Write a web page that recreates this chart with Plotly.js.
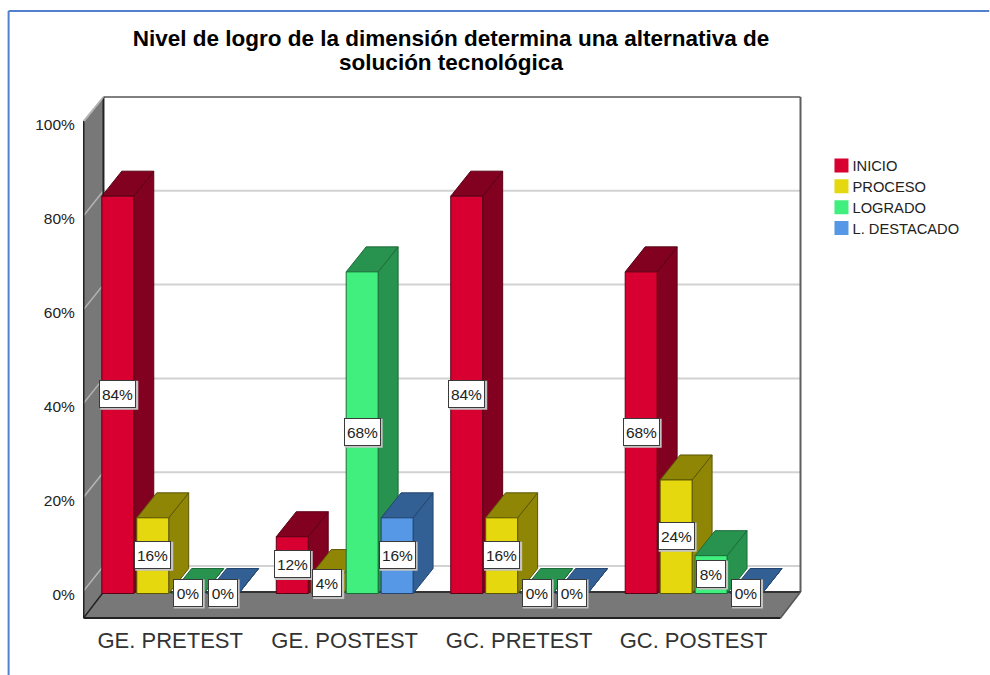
<!DOCTYPE html>
<html><head><meta charset="utf-8">
<script src="https://cdn.plot.ly/plotly-3.0.1.min.js"></script>
<style>html,body{margin:0;padding:0;background:#fff}</style></head>
<body><div id="chart" style="width:990px;height:675px"></div>
<script>
const categories = ['GE. PRETEST','GE. POSTEST','GC. PRETEST','GC. POSTEST'];
const seriesNames = ['INICIO','PROCESO','LOGRADO','L. DESTACADO'];
const inicio   = [84,12,84,68];
const proceso  = [16,4,16,24];
const logrado  = [0,68,0,8];
const destacado= [0,16,0,0];
const seriesValues = [inicio,proceso,logrado,destacado];
const frontColors = ['#d70030','#e6d80e','#40ef7d','#5698e6'];
const sideColors  = ['#820020','#8f8606','#28924f','#325f94'];
const edgeColors  = ['#5a0016','#5c5604','#1c6b39','#23456e'];
const yTicks = [0,20,40,60,80,100];

// pixel layout of the fake 3-D box
const plotL=82.5, plotR=802.5, plotT=90, plotB=625;
const pxX=174.7, pxY=4.73, zeroPx=593.5;
const labelZero=595, labelScale=4.7;
const X=p=>-0.5+(p-plotL)/pxX, Y=p=>(zeroPx-p)/pxY;
const dX=20/pxX, dY=25/pxY;
const barW=32/pxX, slot=35/pxX, gap=3/pxX;
const poly=pts=>'M'+pts.map(p=>p[0]+','+p[1]).join(' L')+' Z';
const shapes=[];
const addPoly=(pts,fill,color,width)=>shapes.push({type:'path',path:poly(pts),xref:'x',yref:'y',layer:'below',fillcolor:fill,line:{color:color,width:width}});
const addLine=(a,b,color,width)=>shapes.push({type:'line',x0:a[0],y0:a[1],x1:b[0],y1:b[1],xref:'x',yref:'y',layer:'below',line:{color:color,width:width}});
const P=(x,y)=>[X(x),Y(y)];

// back wall gridlines
yTicks.forEach(v=>{
  const back=566-v*4.69;
  if(v<100) addLine(P(103,back),P(801,back),'#d2d2d2',2);
});
// left wall
addPoly([P(83,121),P(103,97),P(103,592),P(83,618)],'#787878','#787878',0);
yTicks.forEach(v=>{
  const back=566-v*4.69;
  addLine(P(83,back+25),P(103,back),'#b4b4b4',1.5);
});
// floor
addPoly([P(83,618),P(103,592),P(801,592),P(781,618)],'#787878','#787878',0);
// box edges
addLine(P(103,97),P(801,97),'#808080',2);
addLine(P(801,97),P(801,592),'#5e5e5e',2);
addLine(P(103,97),P(103,592),'#222222',2);
addLine(P(83,121),P(83,618),'#222222',2);
addLine(P(83,618),P(781,618),'#222222',2);
addLine(P(103,592),P(801,592),'#333333',2);
addLine(P(83,618),P(103,592),'#222222',1.5);
addLine(P(781,618),P(801,592),'#555555',1.5);
addLine(P(83,121),P(103,97),'#b4b4b4',1.5);

// bar depth faces, painted left to right; labels with a soft shadow
const annotations=[];
categories.forEach((c,k)=>{
  seriesValues.forEach((vals,i)=>{
    const v=vals[k];
    const l=k-2*slot+i*slot+gap/2, r=l+barW;
    addPoly([[r,0],[r+dX,dY],[r+dX,v+dY],[r,v]],sideColors[i],edgeColors[i],1);
    addPoly([[l,v],[l+dX,v+dY],[r+dX,v+dY],[r,v]],sideColors[i],edgeColors[i],1);
    const w=v>=10?35:28, h=26;
    shapes.push({type:'rect',xref:'x',yref:'y',xsizemode:'pixel',ysizemode:'pixel',
      xanchor:(l+r)/2,yanchor:v/2,x0:-w/2,x1:w/2+3,y0:-h/2-2,y1:h/2+1,
      layer:'above',fillcolor:'#c4c4c4',line:{width:0}});
    annotations.push({x:(l+r)/2,y:v/2,xref:'x',yref:'y',text:v+'%',showarrow:false,yshift:1,
      xanchor:'center',yanchor:'middle',width:w,height:h,align:'center',valign:'middle',
      bgcolor:'#ffffff',bordercolor:'#3a3a3a',borderwidth:1,borderpad:0,
      font:{family:'Liberation Sans, Arial, sans-serif',size:15.5,color:'#222222'}});
  });
});

// screenshot frame (blue)
const pX=p=>(p-plotL)/(plotR-plotL), pY=p=>(plotB-p)/(plotB-plotT);
shapes.push({type:'line',xref:'paper',yref:'paper',x0:pX(8),y0:pY(11),x1:pX(990),y1:pY(11),line:{color:'#4f81cf',width:2}});
shapes.push({type:'line',xref:'paper',yref:'paper',x0:pX(8),y0:pY(11),x1:pX(8),y1:pY(675),line:{color:'#4f81cf',width:2}});

const xs=categories.map((c,k)=>k);
const traces=seriesNames.map((n,i)=>({type:'bar',name:n,x:xs,y:seriesValues[i],
  marker:{color:frontColors[i],line:{color:edgeColors[i],width:1}},hoverinfo:'x+y'}));
// carries the tick-label scale of the value axis
traces.push({type:'scatter',mode:'none',x:[0,0],y:yTicks.slice(0,2),yaxis:'y2',showlegend:false,hoverinfo:'skip'});

const layout={
  width:990,height:675,paper_bgcolor:'#ffffff',plot_bgcolor:'rgba(0,0,0,0)',
  margin:{l:plotL,r:990-plotR,t:plotT,b:675-plotB,pad:0},
  barmode:'group',bargap:1-4*slot,bargroupgap:gap/slot,
  title:{text:'<b>Nivel de logro de la dimensión determina una alternativa de<br>solución tecnológica</b>',
    x:451/990,xanchor:'center',y:1-50/675,yanchor:'middle',
    font:{family:'Liberation Sans, Arial, sans-serif',size:22.5,color:'#000000'}},
  xaxis:{range:[-0.5,X(plotR)],tickmode:'array',tickvals:xs,ticktext:categories,showgrid:false,zeroline:false,showline:false,ticks:'',
    tickfont:{family:'Liberation Sans, Arial, sans-serif',size:22,color:'#333333'}},
  yaxis:{range:[Y(plotB),Y(plotT)],showgrid:false,zeroline:false,showline:false,showticklabels:false,ticks:''},
  yaxis2:{overlaying:'y',side:'left',range:[(labelZero-plotB)/labelScale,(labelZero-plotT)/labelScale],
    tickmode:'array',tickvals:yTicks,ticktext:yTicks.map(v=>v+'%'),showgrid:false,zeroline:false,showline:false,ticks:'outside',ticklen:4,tickcolor:'rgba(0,0,0,0)',
    tickfont:{family:'Liberation Sans, Arial, sans-serif',size:15.5,color:'#222222'}},
  legend:{x:(822-plotL)/(plotR-plotL),xanchor:'left',y:pY(149.5),yanchor:'top',bgcolor:'rgba(0,0,0,0)',
    font:{family:'Liberation Sans, Arial, sans-serif',size:14.7,color:'#222222'},itemclick:false,itemdoubleclick:false},
  shapes:shapes,annotations:annotations,showlegend:true
};
Plotly.newPlot('chart',traces,layout,{displayModeBar:false,responsive:false}).then(gd=>{
  // tighter title leading, as in the reference
  const base=46;
  const t=gd.querySelector('.gtitle');
  if(t) t.setAttribute('y',base);
  gd.querySelectorAll('.gtitle .line').forEach((ln,i)=>{
    if(i>0) ln.removeAttribute('dy');
    ln.setAttribute('y',base+i*24);
  });
  // compact legend: closer text, larger borderless swatches, 20.8px row pitch
  const rows=gd.querySelectorAll('.legend .traces');
  let y0=null;
  rows.forEach((row,i)=>{
    const m=/translate\(([^,]+),\s*([^)]+)\)/.exec(row.getAttribute('transform')||'');
    if(m){ if(y0===null) y0=parseFloat(m[2]); row.setAttribute('transform','translate('+m[1]+','+(y0+i*20.8)+')'); }
    const txt=row.querySelector('.legendtext');
    if(txt) txt.setAttribute('x',parseFloat(txt.getAttribute('x'))-9);
    const p=row.querySelector('.legendpoints path');
    if(p){ p.setAttribute('d','M7,7H-7V-7H7Z'); p.style.stroke='none'; p.style.strokeWidth='0'; }
  });
});
</script></body></html>
